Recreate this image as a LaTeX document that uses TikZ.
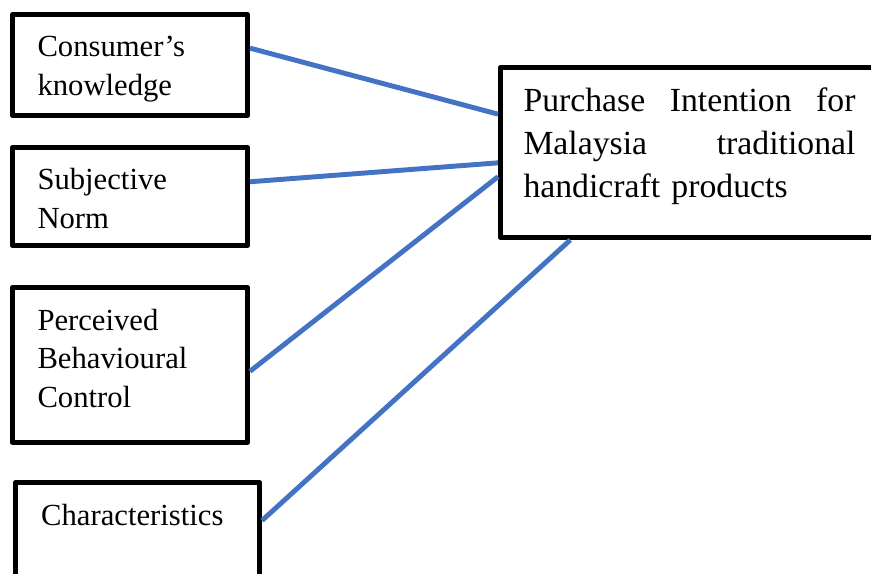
\documentclass[tikz,border=0pt]{standalone}
\usepackage{fontspec}
\setmainfont{Liberation Serif}

\definecolor{linkblue}{HTML}{4472C4}

\tikzset{every picture/.style={line width=0.75pt}}
\tikzset{
  factorbox/.style={draw, line width=3.75pt, line join=round, inner sep=0pt},
  factortext/.style={anchor=base west, inner sep=0pt, text width=165pt, align=left, font=\fontsize{23}{28.9}\selectfont},
  link/.style={draw=linkblue, line width=3.7pt}
}

\begin{document}
\begin{tikzpicture}[x=0.75pt,y=0.75pt,yscale=-1,xscale=1]
\useasboundingbox (0,0) rectangle (871,574);
\clip (0,0) rectangle (871,574);

%Shape: Rectangle [Consumer's knowledge]
\node [factorbox, minimum width=176.25pt, minimum height=75.75pt] (ck) at (130,65) {};
%Shape: Rectangle [Subjective Norm]
\node [factorbox, minimum width=176.25pt, minimum height=73.5pt] (sn) at (130,196.5) {};
%Shape: Rectangle [Perceived Behavioural Control]
\node [factorbox, minimum width=176.25pt, minimum height=116.25pt] (pbc) at (130,365) {};
%Shape: Rectangle [Characteristics]
\node [factorbox, minimum width=183pt, minimum height=110.6pt] (ch) at (137.5,556.25) {};
%Shape: Rectangle [Purchase Intention]
\node [factorbox, minimum width=292.1pt, minimum height=127.5pt] (pi) at (695.25,152.5) {};

% Text Node
\node [factortext] (cktxt) at (37,57) {Consumer’s\\knowledge};
% Text Node
\node [factortext] (sntxt) at (37,190) {Subjective\\Norm};
% Text Node
\node [factortext] (pbctxt) at (37,330) {Perceived\\Behavioural\\Control};
% Text Node
\node [factortext] (chtxt) at (40.7,525) {Characteristics};
% Text Node
\node [factortext, text width=249pt, font=\fontsize{25.3}{32.25}\selectfont] (pitxt) at (523,112) {Purchase\hfill Intention\hfill for\\Malaysia\hfill traditional\\handicraft products};

%Straight Lines
\draw [link] (ck.8) -- (pi.169.4);
\draw [link] (sn.7) -- (pi.183.4);
\draw [link] (pbc.-3.4) -- (pi.187.5);
\draw [link] (ch.16.5) -- (pi.215.6);

\end{tikzpicture}
\end{document}
